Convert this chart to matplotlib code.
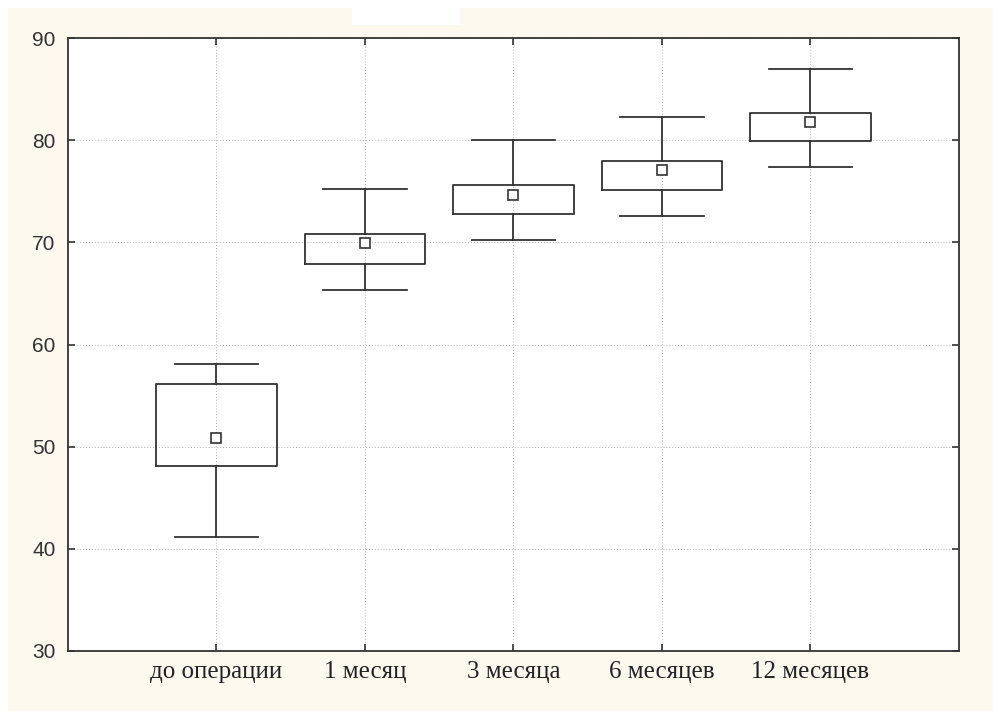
import matplotlib.pyplot as plt
from matplotlib.patches import Rectangle

# подписи групп и значения
groups = ["до операции", "1 месяц", "3 месяца", "6 месяцев", "12 месяцев"]
means = [50.8, 69.9, 74.6, 77.1, 81.8]
box_low = [48.1, 67.9, 72.8, 75.1, 79.9]
box_high = [56.1, 70.8, 75.6, 78.0, 82.7]
whisk_low = [41.2, 65.3, 70.2, 72.6, 77.4]
whisk_high = [58.1, 75.2, 80.0, 82.3, 87.0]
yticks = [30, 40, 50, 60, 70, 80, 90]

cream = "#fdf9ef"
dark = "#333333"

fig = plt.figure(figsize=(9.93, 7.11), dpi=100, facecolor="white")
# фон рисунка: кремовая подложка с белой полоской слева и сверху
fig.patches.append(Rectangle((8 / 993, 0), 1, 703 / 711, transform=fig.transFigure,
                             facecolor=cream, edgecolor="none", zorder=-10))
fig.patches.append(Rectangle((352 / 993, 686 / 711), 108 / 993, 17 / 711,
                             transform=fig.transFigure, facecolor="white",
                             edgecolor="none", zorder=-9))

ax = fig.add_axes([68 / 993, 60 / 711, 891 / 993, 613 / 711])
ax.set_facecolor("white")

stats = []
for i in range(len(groups)):
    stats.append({
        "med": means[i], "mean": means[i],
        "q1": box_low[i], "q3": box_high[i],
        "whislo": whisk_low[i], "whishi": whisk_high[i],
        "fliers": [], "label": groups[i],
    })

pos = list(range(1, len(groups) + 1))
ax.bxp(stats, positions=pos, widths=0.81, showmeans=True, showfliers=False,
       boxprops=dict(color=dark, linewidth=1.3),
       whiskerprops=dict(color=dark, linewidth=1.3),
       capprops=dict(color=dark, linewidth=1.3),
       capwidths=0.56,
       medianprops=dict(linewidth=0),
       meanprops=dict(marker="s", markersize=6.5, markerfacecolor="white",
                      markeredgecolor=dark, markeredgewidth=1.2))

ax.set_xlim(0, 6)
ax.set_ylim(30, 90)
ax.set_yticks(yticks)
ax.set_xticks(pos)
ax.set_xticklabels(groups, fontfamily="Liberation Serif", fontsize=18, color="#222222")
for lab in ax.get_yticklabels():
    lab.set_fontfamily("Liberation Sans")
    lab.set_fontsize(15)
    lab.set_color("#333333")

ax.grid(True, linestyle=(0, (1, 2)), color="#b5b5b5", linewidth=0.7)
ax.set_axisbelow(True)
ax.tick_params(direction="in", length=5, width=1.2, color=dark,
               top=True, right=True)
ax.tick_params(axis="y", pad=9)
ax.tick_params(axis="x", pad=7)
for s in ax.spines.values():
    s.set_color(dark)
    s.set_linewidth(1.3)

fig.savefig("out.png", dpi=100, facecolor=fig.get_facecolor())
